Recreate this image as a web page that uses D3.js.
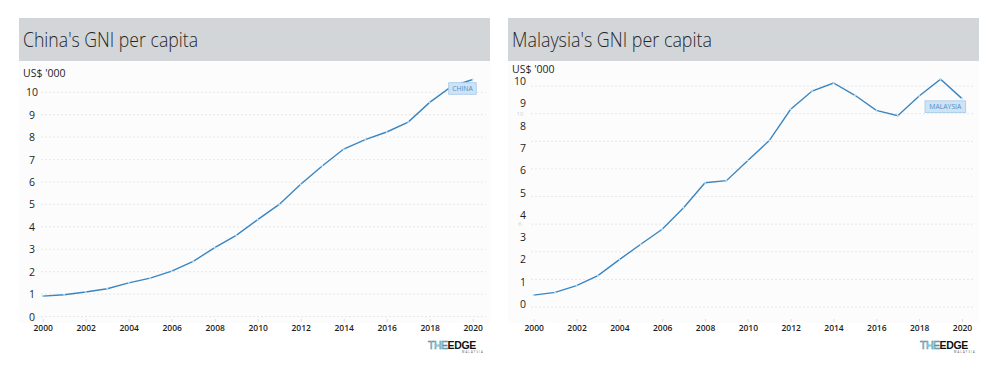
<!DOCTYPE html>
<html><head><meta charset="utf-8">
<script src="https://cdn.jsdelivr.net/npm/d3@7"></script>
<style>
body{margin:0;background:#fff;}
svg{display:block;font-family:"Open Sans","Noto Sans",sans-serif;}
</style></head>
<body>
<svg id="c" width="1000" height="368"></svg>
<script>
const years = d3.range(2000, 2021);
const chinaValues = [0.91,0.97,1.09,1.24,1.50,1.71,2.02,2.46,3.07,3.62,4.32,5.00,5.90,6.71,7.47,7.89,8.23,8.67,9.55,10.25,10.57];
const malaysiaValues = [0.40,0.52,0.82,1.27,1.99,2.68,3.35,4.32,5.44,5.53,6.43,7.33,8.73,9.55,9.91,9.36,8.68,8.44,9.33,10.08,9.21];
const yTicks = [0,1,2,3,4,5,6,7,8,9,10];
const xTicks = [2000,2002,2004,2006,2008,2010,2012,2014,2016,2018,2020];
const malaysiaGridTicks = [3,4,5,6,7,8,9,10,11];
const malaysiaGhostLabels = [10,6];
const titles = ["China's GNI per capita","Malaysia's GNI per capita"];
const seriesNames = ["CHINA","MALAYSIA"];
const unitLabel = "US$ '000";

const svg = d3.select("#c");
const lineColor = "#3a86c2";

function logo(g, x, y){
  const t = g.append("text").attr("x", x).attr("y", y).attr("font-family","'Liberation Sans',Arial,sans-serif").attr("font-size", 10.5);
  t.append("tspan").text("THE").attr("fill","#fff").attr("stroke","#3f8fa8").attr("stroke-width",0.6).attr("font-weight",300).attr("letter-spacing",-0.5);
  t.append("tspan").text("EDGE").attr("fill","#111").attr("font-weight",900).attr("letter-spacing",-0.3);
  g.append("text").attr("x", x+34).attr("y", y+4).attr("font-size",2.6).attr("fill","#555").attr("letter-spacing",1.2).text("MALAYSIA");
}

function panel(cfg){
  const g = svg.append("g");
  g.append("rect").attr("x",cfg.bx).attr("y",18).attr("width",cfg.bw).attr("height",43).attr("fill","#d3d6d9");
  g.append("text").attr("x",cfg.tx).attr("y",47).attr("font-size",20).attr("font-weight",300).attr("fill","#262626")
    .attr("textLength",cfg.tw).attr("lengthAdjust","spacingAndGlyphs").text(cfg.title);
  g.append("rect").attr("x",cfg.bx).attr("y",61).attr("width",cfg.bw).attr("height",262).attr("fill","#fcfcfc");
  g.append("text").attr("x",cfg.ux).attr("y",cfg.uy).attr("font-size",10.5).attr("fill","#1e1e1e").text(unitLabel);

  const x = d3.scaleLinear().domain([2000,2020]).range(cfg.xr);
  const y = d3.scaleLinear().domain([0,10]).range(cfg.yr);
  const gy = cfg.gridScale || y;
  const gridTicks = cfg.gridTicks || yTicks;

  g.selectAll(".grid").data(gridTicks).join("line")
    .attr("x1",cfg.gx[0]).attr("x2",cfg.gx[1])
    .attr("y1",d=>gy(d)).attr("y2",d=>gy(d))
    .attr("stroke","#e2e2e2").attr("stroke-width",0.8).attr("stroke-dasharray","2,2");

  if(cfg.ghost){
    g.selectAll(".ghost").data(cfg.ghost).join("text")
      .attr("x",cfg.ghostX).attr("y",d=>gy(d)+2).attr("font-size",6).attr("fill","#d0d0d0")
      .attr("text-anchor","middle").text(d=>d);
  }

  g.selectAll(".yl").data(yTicks).join("text")
    .attr("x",cfg.ylx).attr("y",d=>y(d)+4).attr("font-size",10.5).attr("fill","#1e1e1e")
    .attr("text-anchor",cfg.ylAnchor).text(d=>d);

  const xa = g.append("g").attr("transform",`translate(0,${cfg.xAxisY})`)
    .call(d3.axisBottom(x).tickValues(xTicks).tickFormat(d3.format("d")).tickSize(3).tickPadding(3));
  xa.select(".domain").remove();
  xa.selectAll(".tick line").attr("stroke","#ddd");
  xa.selectAll(".tick text").attr("font-size",8.5).attr("font-weight",600).attr("fill","#1e1e1e")
    .attr("font-family","'Open Sans',sans-serif");

  const data = years.map((yr,i)=>({yr, v: cfg.values[i]}));
  g.append("path").datum(data)
    .attr("d", d3.line().x(d=>x(d.yr)).y(d=>y(d.v)))
    .attr("fill","none").attr("stroke",lineColor).attr("stroke-width",1.4);
  g.selectAll(".pt").data(data).join("circle")
    .attr("cx",d=>x(d.yr)).attr("cy",d=>y(d.v)).attr("r",1)
    .attr("fill","#bcdcf3");

  const lb = g.append("g");
  const bx = x(cfg.lblYear) + cfg.lblDx, by = y(cfg.lblVal);
  lb.append("rect").attr("x",bx).attr("y",by-5.8).attr("width",cfg.lblW).attr("height",11.6)
    .attr("fill","#cfe3f4").attr("stroke","#a3c9e8").attr("stroke-width",0.8);
  lb.append("text").attr("x",bx+cfg.lblW/2).attr("y",by+2.4).attr("text-anchor","middle")
    .attr("font-size",6.8).attr("fill","#4d90c8").text(cfg.name);

  logo(g, cfg.logoX, cfg.logoY);
}

panel({
  bx:19, bw:471, tx:23, tw:175, title:titles[0], ux:23, uy:77,
  xr:[42.7,472.7], yr:[316.5,92.3], gx:[41,486],
  ylx:32, ylAnchor:"middle", xAxisY:319,
  values:chinaValues, name:seriesNames[0],
  lblYear:2019, lblDx:-2.5, lblVal:10.17, lblW:27.5,
  logoX:428, logoY:348.5
});

const mGrid = d3.scaleLinear().domain([3,11]).range([307,86]);
panel({
  bx:508, bw:471, tx:512, tw:200, title:titles[1], ux:512, uy:73,
  xr:[533.7,962], yr:[304,81], gx:[531,973],
  gridScale:mGrid, gridTicks:malaysiaGridTicks, ghost:malaysiaGhostLabels, ghostX:520,
  ylx:526, ylAnchor:"end", xAxisY:319,
  values:malaysiaValues, name:seriesNames[1],
  lblYear:2019, lblDx:-15.6, lblVal:8.85, lblW:40.7,
  logoX:920, logoY:348.5
});
</script>
</body></html>
